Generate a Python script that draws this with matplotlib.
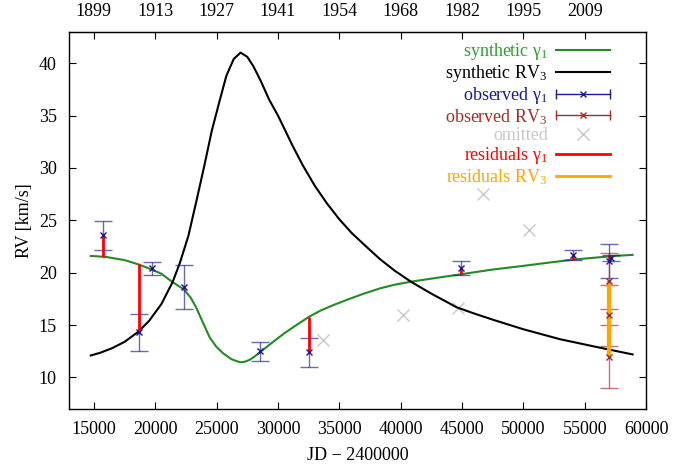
import numpy as np
import matplotlib.pyplot as plt
from matplotlib.lines import Line2D
from matplotlib.legend_handler import HandlerBase

plt.rcParams['font.family'] = ['Liberation Serif', 'DejaVu Serif']
plt.rcParams['mathtext.fontset'] = 'custom'
plt.rcParams['mathtext.rm'] = 'Liberation Serif'
plt.rcParams['mathtext.it'] = 'Liberation Serif:italic'
plt.rcParams['font.size'] = 13

# --- synthetic curves ---
g1_jd = [14750, 16000, 17500, 18610, 19500, 20500, 21415, 22340, 22900, 23370,
         23900, 24450, 25000, 25540, 26200, 26900, 27300, 27720, 28100, 28530,
         29500, 30500, 31500, 32550, 33500, 34500, 35600, 37000, 38310, 39500,
         40890, 42900, 44920, 47500, 50000, 52000, 54070, 56000, 57500, 58900]
g1_rv = [21.6, 21.5, 21.2, 20.8, 20.4, 19.9, 19.1, 18.4, 17.6, 16.6,
         15.2, 13.8, 12.9, 12.3, 11.75, 11.45, 11.5, 11.7, 12.0, 12.4,
         13.3, 14.2, 15.0, 15.8, 16.4, 16.9, 17.4, 18.0, 18.5, 18.85,
         19.15, 19.5, 19.85, 20.3, 20.65, 20.95, 21.25, 21.45, 21.6, 21.7]

rv3_jd = [14750, 15500, 16500, 17500, 18610, 19500, 20500, 21415, 22000, 22700,
          23370, 24000, 24600, 25270, 25800, 26400, 26960, 27500, 28000, 28600,
          29290, 30000, 30500, 31200, 32000, 33000, 34000, 35000, 36000, 37000,
          38310, 39500, 40890, 42500, 44560, 46000, 47550, 50000, 52990, 56000,
          58900]
rv3_rv = [12.1, 12.35, 12.8, 13.4, 14.35, 15.4, 17.0, 19.1, 20.9, 23.5,
          26.9, 30.2, 33.5, 36.5, 38.8, 40.4, 41.0, 40.6, 39.7, 38.3,
          36.5, 35.0, 33.8, 32.1, 30.3, 28.3, 26.6, 25.1, 23.8, 22.7,
          21.3, 20.2, 19.1, 18.0, 16.7, 16.1, 15.5, 14.6, 13.65, 12.9,
          12.2]

# --- observed gamma_1 ---
obs_g1_jd = [15710, 18650, 19730, 22340, 28530, 32550, 44920, 54070, 56950, 57150]
obs_g1_rv = [23.55, 14.3, 20.4, 18.6, 12.5, 12.4, 20.45, 21.7, 21.1, 21.4]
obs_g1_err = [1.4, 1.8, 0.6, 2.1, 0.9, 1.4, 0.7, 0.5, 1.6, 0.25]

# --- observed RV3 ---
obs_rv3_jd = [57000, 57000, 57000]
obs_rv3_rv = [19.2, 15.95, 12.0]
obs_rv3_err = [2.65, 2.9, 3.0]

# --- omitted points ---
omit_jd = [33640, 40210, 44640, 46730, 50460]
omit_rv = [13.6, 16.0, 16.6, 27.55, 24.05]

# top axis: calendar years at the bottom tick positions
year_jd = [15000, 20000, 25000, 30000, 35000, 40000, 45000, 50000, 55000]
year_lbl = ['1899', '1913', '1927', '1941', '1954', '1968', '1982', '1995', '2009']

c_green = '#228b22'
c_navy = '#1a1a8c'
c_brown = '#a52a2a'
c_omit = '#c8c8c8'
c_orange = '#ffa500'


class ErrHandler(HandlerBase):
    # gnuplot-like error bar key: horizontal line, caps at ends, x in middle
    def create_artists(self, legend, orig, xd, yd, w, h, fs, trans):
        c = orig.get_color()
        y = h / 2 - yd
        x0, x1 = -xd, w - xd
        bar = Line2D([x0, x1], [y, y], color=c, lw=1, marker='|', markersize=7,
                     transform=trans)
        mk = Line2D([(x0 + x1) / 2], [y], color=c, marker='x', markersize=5,
                    ls='none', transform=trans)
        return [bar, mk]


fig, ax = plt.subplots(figsize=(6.73, 4.70), dpi=100)
plt.subplots_adjust(left=0.103, right=0.96, bottom=0.130, top=0.9326)

ax.plot(omit_jd, omit_rv, ls='none', marker='x', ms=9, mew=1, color=c_omit, zorder=1)
l_g1, = ax.plot(g1_jd, g1_rv, color=c_green, lw=1.5, zorder=2)
l_rv3, = ax.plot(rv3_jd, rv3_rv, color='black', lw=1.5, zorder=2)

ax.errorbar(obs_g1_jd, obs_g1_rv, yerr=obs_g1_err, fmt='none', ecolor=c_navy,
            elinewidth=1, capsize=6.5, capthick=1, alpha=0.65, zorder=3)
ax.errorbar(obs_rv3_jd, obs_rv3_rv, yerr=obs_rv3_err, fmt='none', ecolor=c_brown,
            elinewidth=1, capsize=6.5, capthick=1, alpha=0.65, zorder=3)

# residuals: from model to observation
g1_at = np.interp(obs_g1_jd, g1_jd, g1_rv)
rv3_at = np.interp(obs_rv3_jd, rv3_jd, rv3_rv)
ax.vlines(obs_g1_jd, g1_at, obs_g1_rv, color='red', lw=2, zorder=4)
ax.vlines(obs_rv3_jd, rv3_at, obs_rv3_rv, color=c_orange, lw=3, zorder=4)

ax.plot(obs_g1_jd, obs_g1_rv, ls='none', marker='x', ms=5, mew=1, color=c_navy, zorder=5)
ax.plot(obs_rv3_jd, obs_rv3_rv, ls='none', marker='x', ms=5, mew=1, color=c_brown, zorder=5)

ax.set_xlim(13000, 60000)
ax.set_ylim(7, 43)
ax.set_xticks(np.arange(15000, 60001, 5000))
ax.set_yticks(np.arange(10, 41, 5))
ax.tick_params(direction='in', length=5, right=True, top=False, labelsize=13)
ax.tick_params(axis='x', pad=9)
ax.tick_params(axis='y', pad=9)
ax.set_xlabel('JD − 2400000', fontsize=13, labelpad=6)
ax.set_ylabel('RV [km/s]', fontsize=13)
for s in ax.spines.values():
    s.set_linewidth(1.0)

secax = ax.secondary_xaxis('top')
secax.set_xticks(year_jd, labels=year_lbl)
secax.tick_params(direction='in', length=5, labelsize=13, pad=8.5)

# legend proxies
h_obs_g1 = Line2D([], [], color=c_navy)
h_obs_rv3 = Line2D([], [], color=c_brown)
h_omit = Line2D([], [], ls='none', marker='x', ms=9, mew=1, color=c_omit)
h_res_g1 = Line2D([], [], color='red', lw=2)
h_res_rv3 = Line2D([], [], color=c_orange, lw=2)

handles = [l_g1, l_rv3, h_obs_g1, h_obs_rv3, h_omit, h_res_g1, h_res_rv3]
labels = ['synthetic γ$_1$', 'synthetic RV$_3$', 'observed γ$_1$', 'observed RV$_3$',
          'omitted', 'residuals γ$_1$', 'residuals RV$_3$']
text_colors = ['#2e9e2e', 'black', c_navy, c_brown, c_omit, 'red', c_orange]

leg = ax.legend(handles, labels, loc='upper right', bbox_to_anchor=(0.9376, 0.975),
                frameon=False, markerfirst=False, handlelength=3.0, handletextpad=0.45,
                labelspacing=0.05, borderpad=0, borderaxespad=0, fontsize=13,
                handler_map={h_obs_g1: ErrHandler(), h_obs_rv3: ErrHandler()})
for t, c in zip(leg.get_texts(), text_colors):
    t.set_color(c)

plt.savefig('out.png', dpi=100)
